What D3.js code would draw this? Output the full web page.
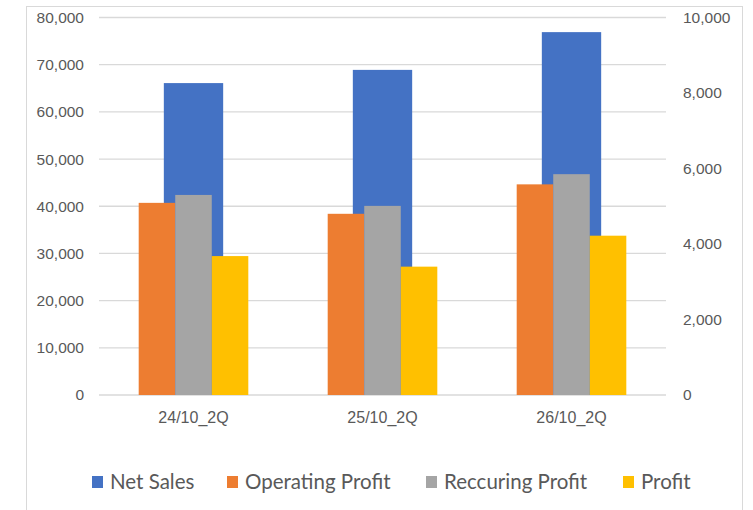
<!DOCTYPE html>
<html>
<head>
<meta charset="utf-8">
<script src="https://cdn.jsdelivr.net/npm/d3@7"></script>
<style>
  body { margin: 0; background: #fff; }
  svg { display: block; font-family: Lato, "Open Sans", sans-serif; }
</style>
</head>
<body>
<svg width="753" height="510"></svg>
<script>
// chart data
var categories = ["24/10_2Q", "25/10_2Q", "26/10_2Q"];
var netSales = [66100, 68900, 76900];
var operatingProfit = [5090, 4800, 5580];
var recurringProfit = [5300, 5010, 5850];
var profit = [3680, 3400, 4220];

var leftTicks = [0, 10000, 20000, 30000, 40000, 50000, 60000, 70000, 80000];
var rightTicks = [0, 2000, 4000, 6000, 8000, 10000];

var series = [
  { name: "Net Sales", color: "#4472C4" },
  { name: "Operating Profit", color: "#ED7D31" },
  { name: "Reccuring Profit", color: "#A5A5A5" },
  { name: "Profit", color: "#FFC000" }
];

var svg = d3.select("svg");
var textColor = "#595959";

// outer frame
svg.append("rect")
  .attr("x", 26.5).attr("y", 6.5)
  .attr("width", 716).attr("height", 520)
  .attr("fill", "none").attr("stroke", "#D9D9D9");

// plot area (don't use "top", it's window.top)
var plotLeft = 99, plotRight = 666, plotTop = 17.5, plotBottom = 395;

var x = d3.scaleBand().domain(categories).range([plotLeft, plotRight]);
var yLeft = d3.scaleLinear().domain([0, 80000]).range([plotBottom, plotTop]);
var yRight = d3.scaleLinear().domain([0, 10000]).range([plotBottom, plotTop]);
var fmt = d3.format(",");

// gridlines
svg.append("g").selectAll("line")
  .data(leftTicks)
  .enter().append("line")
  .attr("x1", plotLeft).attr("x2", plotRight)
  .attr("y1", function(d) { return yLeft(d); })
  .attr("y2", function(d) { return yLeft(d); })
  .attr("stroke", "#D9D9D9").attr("stroke-width", 1.3);

// left axis labels
var leftAxis = svg.append("g")
  .attr("transform", "translate(" + (plotLeft - 15) + ",0)")
  .call(d3.axisLeft(yLeft).tickValues(leftTicks).tickFormat(fmt).tickSize(0));
leftAxis.select(".domain").remove();
leftAxis.selectAll("text")
  .attr("x", 0)
  .attr("fill", textColor).style("font-size", "15.5px");

// right axis labels
var rightAxis = svg.append("g")
  .attr("transform", "translate(" + (plotRight + 17) + ",0)")
  .call(d3.axisRight(yRight).tickValues(rightTicks).tickFormat(fmt).tickSize(0));
rightAxis.select(".domain").remove();
rightAxis.selectAll("text")
  .attr("x", 0)
  .attr("fill", textColor).style("font-size", "15.5px");

// category labels
var bottomAxis = svg.append("g")
  .attr("transform", "translate(0," + plotBottom + ")")
  .call(d3.axisBottom(x).tickSize(0));
bottomAxis.select(".domain").remove();
bottomAxis.selectAll("text")
  .attr("y", 17)
  .attr("fill", textColor).style("font-size", "16px");

// net sales bars (primary axis, behind)
var bigW = x.bandwidth() * 0.314;
svg.append("g").selectAll("rect")
  .data(netSales)
  .enter().append("rect")
  .attr("x", function(d, i) { return x(categories[i]) + x.bandwidth() / 2 - bigW / 2; })
  .attr("y", function(d) { return yLeft(d); })
  .attr("width", bigW)
  .attr("height", function(d) { return plotBottom - yLeft(d); })
  .attr("fill", series[0].color);

// profit bars (secondary axis)
var inner = d3.scaleBand().domain([0, 1, 2]).range([0, x.bandwidth() * 0.58]);
var profitSeries = [operatingProfit, recurringProfit, profit];
profitSeries.forEach(function(vals, s) {
  svg.append("g").selectAll("rect")
    .data(vals)
    .enter().append("rect")
    .attr("x", function(d, i) { return x(categories[i]) + x.bandwidth() * 0.21 + inner(s); })
    .attr("y", function(d) { return yRight(d); })
    .attr("width", inner.bandwidth())
    .attr("height", function(d) { return plotBottom - yRight(d); })
    .attr("fill", series[s + 1].color);
});

// legend
var legendX = [92, 227, 426, 623];
var legend = svg.append("g").selectAll("g")
  .data(series)
  .enter().append("g")
  .attr("transform", function(d, i) { return "translate(" + legendX[i] + ",476)"; });
legend.append("rect")
  .attr("width", 11).attr("height", 12)
  .attr("fill", function(d) { return d.color; });
legend.append("text")
  .attr("x", 18).attr("y", 13)
  .attr("fill", textColor).style("font-size", "20.5px")
  .text(function(d) { return d.name; });
</script>
</body>
</html>
